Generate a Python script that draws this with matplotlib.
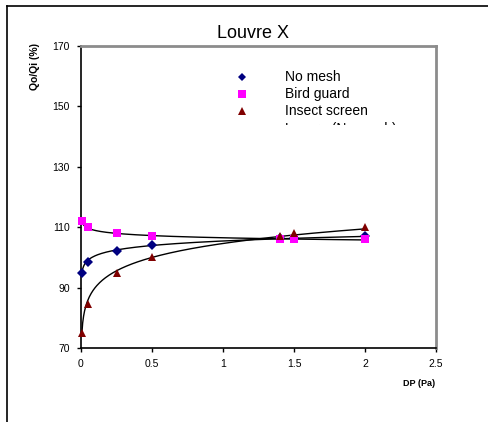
import numpy as np
import matplotlib
matplotlib.use("Agg")
import matplotlib.pyplot as plt
from matplotlib.patches import Rectangle

# --- DATA ---
dp = [0.005, 0.05, 0.25, 0.5, 1.4, 1.5, 2.0]        # DP (Pa)
no_mesh = [95.0, 98.5, 102.0, 104.0, 106.5, 106.5, 107.0]
bird_guard = [112.0, 110.0, 108.0, 107.0, 106.0, 106.0, 106.0]
insect_screen = [75.0, 84.5, 95.0, 100.0, 107.0, 108.0, 110.0]

series = [
    ("No mesh", no_mesh, "D", "#000080", 5),
    ("Bird guard", bird_guard, "s", "#FF00FF", 6),
    ("Insect screen", insect_screen, "^", "#800000", 6),
]

x_ticks = [0, 0.5, 1, 1.5, 2, 2.5]
x_labels = ["0", "0.5", "1", "1.5", "2", "2.5"]
y_ticks = [70, 90, 110, 130, 150, 170]

W, H = 488, 422
fig = plt.figure(figsize=(W / 100, H / 100), dpi=100)
plt.rcParams["font.family"] = ["Liberation Sans", "DejaVu Sans"]

# outer chart frame (left + top edges visible)
fig.add_artist(plt.Line2D([7 / W, 7 / W], [0, 1 - 6 / H], color="black", lw=1.2))
fig.add_artist(plt.Line2D([7 / W, 1], [1 - 6 / H, 1 - 6 / H], color="black", lw=1.2))

ax = fig.add_axes([81 / W, 1 - 348 / H, (436 - 81) / W, (348 - 46) / H])

xs = np.array(dp)
xfit = np.linspace(xs.min(), xs.max(), 300)
for name, vals, mk, col, ms in series:
    ys = np.array(vals)
    # power trendline y = a * x^b
    b, loga = np.polyfit(np.log(xs), np.log(ys), 1)
    ax.plot(xfit, np.exp(loga) * xfit ** b, color="black", lw=1, zorder=2)
    ax.plot(xs, ys, linestyle="none", marker=mk, color=col, markersize=ms,
            markeredgewidth=0, zorder=3, clip_on=False)

ax.set_xlim(0, 2.5)
ax.set_ylim(70, 170)
ax.set_xticks(x_ticks)
ax.set_xticklabels(x_labels)
ax.set_yticks(y_ticks)
ax.tick_params(direction="out", length=3, width=1, labelsize=7.5, pad=5)
for s in ["left", "bottom"]:
    ax.spines[s].set_color("black")
    ax.spines[s].set_linewidth(1.2)
for s in ["top", "right"]:
    ax.spines[s].set_color("#8c8c8c")
    ax.spines[s].set_linewidth(2)

fig.text(253 / W, 1 - 33 / H, "Louvre X", ha="center", va="center", fontsize=13)
fig.text(35 / W, 1 - 67 / H, "Qo/Qi (%)", rotation=90, ha="center", va="center",
         fontsize=7.5, fontweight="bold")
fig.text(435 / W, 1 - 384 / H, "DP (Pa)", ha="right", va="center",
         fontsize=6.5, fontweight="bold")

# legend (manual, as in the original the box is clipped)
rows = [77, 94, 111]
for (name, vals, mk, col, ms), yy in zip(series, rows):
    fig.add_artist(plt.Line2D([242 / W], [1 - yy / H], marker=mk, color=col,
                              markersize=ms - 0.5, markeredgewidth=0, linestyle="none"))
    fig.text(285 / W, 1 - yy / H, name, ha="left", va="center", fontsize=10)

clip = Rectangle((0, H - 125), W, 125, transform=None)
t = fig.text(285 / W, 1 - 129 / H, "Louvre (No mesh)", ha="left", va="center", fontsize=10)
t.set_clip_path(clip)

fig.savefig("out.png", dpi=100)
